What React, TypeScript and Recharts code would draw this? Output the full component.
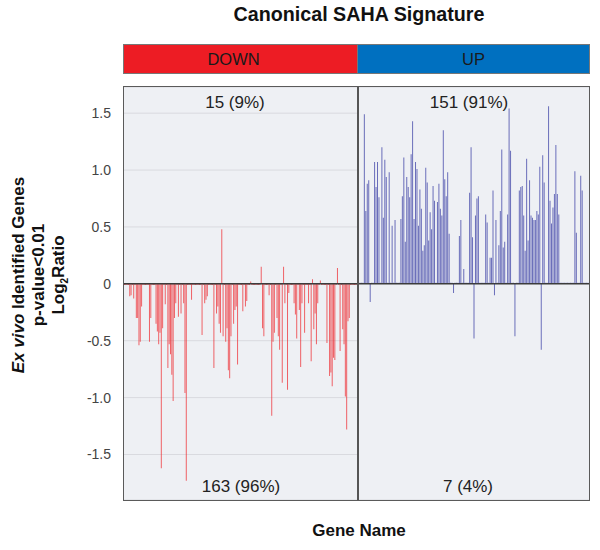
import React from "react";
import { BarChart, Bar, XAxis, YAxis, CartesianGrid, ReferenceLine } from "recharts";

// Log2 ratio of each gene, DOWN panel (178 genes)
const downPanelValues = [
  -0.01, -0.01, -0.01, -0.01, -0.11, -0.10, -0.01, -0.13, -0.01, -0.30,
  -0.30, -0.54, -0.51, -0.20, -0.01, -0.01, -0.01, -0.01, -0.01, -0.51,
  -0.30, -0.01, -0.01, -0.01, -0.35, -0.42, -0.53, -0.43, -1.62, -0.39,
  -0.01, -0.18, -0.01, -0.74, -0.53, -0.62, -0.80, -1.03, -0.30, -0.17,
  -0.01, -0.29, -0.01, -0.26, -0.01, -0.17, -0.96, -1.73, -0.01, -0.01,
  -0.01, -0.14, -0.01, -0.01, -0.01, -0.01, -0.01, -0.01, -0.01, -0.45,
  -0.01, -0.17, -0.14, -0.11, -0.01, -0.01, -0.01, -0.01, -0.74, -0.01,
  -0.26, -0.20, -0.35, -0.43, 0.48, -0.46, -0.01, -0.51, -0.39, -0.76,
  -0.83, -0.46, -0.01, -0.35, -0.23, -0.20, -0.71, -0.01, -0.01, -0.01,
  -0.24, -0.01, -0.20, -0.15, -0.01, -0.01, 0.02, -0.01, -0.01, -0.01,
  -0.01, -0.01, -0.01, -0.01, 0.15, -0.39, -0.46, -0.01, -0.01, -0.01,
  -0.10, -0.01, -1.16, -0.51, -0.43, -0.01, -0.30, -0.46, -0.58, -0.01,
  -0.87, 0.15, -0.17, -0.01, -0.93, -0.08, -0.01, -0.01, -0.01, -0.17,
  -0.27, -0.48, -0.01, -0.23, -0.73, -0.17, -0.01, -0.43, -0.01, -0.01,
  -0.17, -0.01, -0.68, 0.04, -0.40, -0.26, -0.53, -0.17, -0.01, 0.03,
  -0.01, -0.01, -0.01, -0.01, -0.52, -0.01, -0.81, -0.78, -0.90, -0.65,
  -0.67, -0.01, 0.14, -0.01, -0.59, -0.01, -0.40, -0.53, -0.99, -1.28,
  -0.33, -0.30, -0.01, -0.01, -0.01, -0.01, -0.01, -0.01,
];

// Log2 ratio of each gene, UP panel (158 genes)
const upPanelValues = [
  0.01, 0.01, 0.01, 0.01, 1.49, 0.64, 0.88, 0.91, -0.16, 0.01,
  0.01, 1.07, 0.85, 1.07, 0.76, 0.01, 1.20, 0.58, 1.09, 0.94,
  0.01, 0.98, 0.01, 0.51, 0.01, 0.56, 0.01, 0.01, 0.01, 0.57,
  0.77, 1.11, 0.37, 0.94, 0.85, 0.76, 1.14, 1.43, 0.57, 1.07,
  1.01, 0.51, 0.83, 0.66, 0.29, 0.34, 1.02, 0.89, 0.38, 0.63,
  0.48, 0.86, 0.73, 0.01, 0.72, 0.88, 0.66, 0.60, 1.35, 0.92,
  0.77, 0.98, 0.44, 0.01, 0.01, -0.08, 0.01, 0.01, 0.01, 0.42,
  0.56, 0.01, 0.13, 0.01, 0.01, 0.01, 0.80, 1.20, 0.41, -0.48,
  0.60, 0.75, 0.77, 0.01, 0.01, 0.01, 0.01, 0.61, 0.54, 0.01,
  0.23, 0.23, 0.82, -0.10, 0.56, 0.01, 0.34, 0.64, 1.18, 0.32,
  0.37, 0.01, 0.61, 1.54, 1.17, 0.01, 0.01, -0.46, 0.01, 0.01,
  0.82, 0.85, 0.86, 0.60, 0.29, 1.10, 0.38, 0.91, 0.60, 0.58,
  0.56, 0.56, 0.64, 0.61, 1.03, -0.58, 1.13, 0.89, 0.01, 0.01,
  1.56, 0.73, 0.53, 0.67, 0.79, 1.22, 0.79, 0.61, 0.01, 0.01,
  0.01, 0.01, 0.01, 0.01, 0.01, 0.01, 0.01, 0.01, 0.99, 0.45,
  0.01, 0.01, 0.95, 0.82, 0.01, 0.01, 0.01, 0.01,
];

const yTicks = [-1.5, -1, -0.5, 0, 0.5, 1, 1.5];
const yDomain: [number, number] = [-1.9, 1.73];
const panelNames = ["DOWN", "UP"];
const topCountLabels = ["15 (9%)", "151 (91%)"];
const bottomCountLabels = ["163 (96%)", "7 (4%)"];
const chartTitle = "Canonical SAHA Signature";
const xTitle = "Gene Name";

const downData = downPanelValues.map((value, i) => ({ gene: `D${i + 1}`, value }));
const upData = upPanelValues.map((value, i) => ({ gene: `U${i + 1}`, value }));

const FONT = "Arial, 'Liberation Sans', Helvetica, sans-serif";
const PLOT_TOP = 87;
const PLOT_H = 413;
const SPLIT_X = 358;
const LEFT_X = 124;
const RIGHT_X = 589;

const fmt = (v: number) => (v === 0 ? "0" : v.toFixed(1));

const abs = (s: React.CSSProperties): React.CSSProperties => ({ position: "absolute", ...s });

const countStyle = (cx: number, top: number): React.CSSProperties =>
  abs({ left: cx - 100, width: 200, top, textAlign: "center", fontSize: 17, color: "#222", whiteSpace: "nowrap" });

export default function App() {
  return (
    <div style={abs({ left: 0, top: 0, width: 600, height: 550, background: "#fff", fontFamily: FONT, overflow: "hidden" })}>
      {/* title */}
      <div style={abs({ left: 159, width: 400, top: 3, textAlign: "center", fontSize: 19.7, fontWeight: "bold", color: "#111", whiteSpace: "nowrap" })}>
        {chartTitle}
      </div>
      {/* header bars */}
      <div style={abs({ left: 123, top: 44, width: SPLIT_X - 123, height: 30, boxSizing: "border-box", background: "#ed1c24", border: "1px solid #777", display: "flex", alignItems: "center", justifyContent: "center", paddingRight: 14, fontSize: 16.5, color: "#1a1a1a" })}>
        {panelNames[0]}
      </div>
      <div style={abs({ left: SPLIT_X - 1, top: 44, width: RIGHT_X - SPLIT_X + 2, height: 30, boxSizing: "border-box", background: "#0070c0", border: "1px solid #777", display: "flex", alignItems: "center", justifyContent: "center", fontSize: 16.5, color: "#1a1a1a" })}>
        {panelNames[1]}
      </div>

      {/* left chart with y axis */}
      <div style={abs({ left: 0, top: 0 })}>
        <BarChart width={SPLIT_X} height={550} data={downData} margin={{ top: PLOT_TOP, right: 0, bottom: 550 - PLOT_TOP - PLOT_H, left: 0 }} barCategoryGap={0} barGap={0}>
          <CartesianGrid vertical={false} fill="#eef0f4" stroke="#d9dadf" />
          <XAxis dataKey="gene" hide />
          <YAxis
            width={LEFT_X}
            domain={yDomain}
            ticks={yTicks}
            allowDataOverflow
            axisLine={false}
            tickLine={false}
            tickMargin={7}
            tickFormatter={fmt}
            tick={{ fontSize: 14, fill: "#444", fontFamily: FONT }}
          />
          <Bar dataKey="value" barSize={1} fill="#ee2a2f" fillOpacity={0.72} isAnimationActive={false} />
          <ReferenceLine y={0} stroke="#3c3c3c" strokeWidth={1.5} />
        </BarChart>
      </div>

      {/* right chart */}
      <div style={abs({ left: SPLIT_X, top: 0 })}>
        <BarChart width={RIGHT_X - SPLIT_X} height={550} data={upData} margin={{ top: PLOT_TOP, right: 0, bottom: 550 - PLOT_TOP - PLOT_H, left: 0 }} barCategoryGap={0} barGap={0}>
          <CartesianGrid vertical={false} fill="#eef0f4" stroke="#d9dadf" />
          <XAxis dataKey="gene" hide />
          <YAxis width={0} domain={yDomain} ticks={yTicks} allowDataOverflow axisLine={false} tickLine={false} tick={false} />
          <Bar dataKey="value" barSize={1} fill="#2b2f9e" fillOpacity={0.68} isAnimationActive={false} />
          <ReferenceLine y={0} stroke="#3c3c3c" strokeWidth={1.5} />
        </BarChart>
      </div>

      {/* plot frame */}
      <div style={abs({ left: LEFT_X - 1, top: PLOT_TOP - 1, width: RIGHT_X - LEFT_X + 2, height: PLOT_H + 2, boxSizing: "border-box", border: "1.5px solid #5a5a5a", pointerEvents: "none" })} />
      <div style={abs({ left: SPLIT_X - 1, top: PLOT_TOP, width: 1.5, height: PLOT_H, background: "#555" })} />

      {/* count labels */}
      <div style={countStyle(235, 93)}>{topCountLabels[0]}</div>
      <div style={countStyle(469, 93)}>{topCountLabels[1]}</div>
      <div style={countStyle(241, 477)}>{bottomCountLabels[0]}</div>
      <div style={countStyle(468, 477)}>{bottomCountLabels[1]}</div>

      {/* y axis title */}
      <div style={abs({ left: 39 - 150, top: 275 - 30, width: 300, height: 60, transform: "rotate(-90deg)", textAlign: "center", lineHeight: "20px", fontSize: 17, fontWeight: "bold", color: "#111", whiteSpace: "nowrap" })}>
        <div><i>Ex vivo</i> Identified Genes</div>
        <div>p-value&lt;0.01</div>
        <div>Log<sub style={{ fontSize: 10, lineHeight: 0 }}>2</sub>Ratio</div>
      </div>

      {/* x axis title */}
      <div style={abs({ left: 159, width: 400, top: 521, textAlign: "center", fontSize: 17, fontWeight: "bold", color: "#111" })}>
        {xTitle}
      </div>
    </div>
  );
}
